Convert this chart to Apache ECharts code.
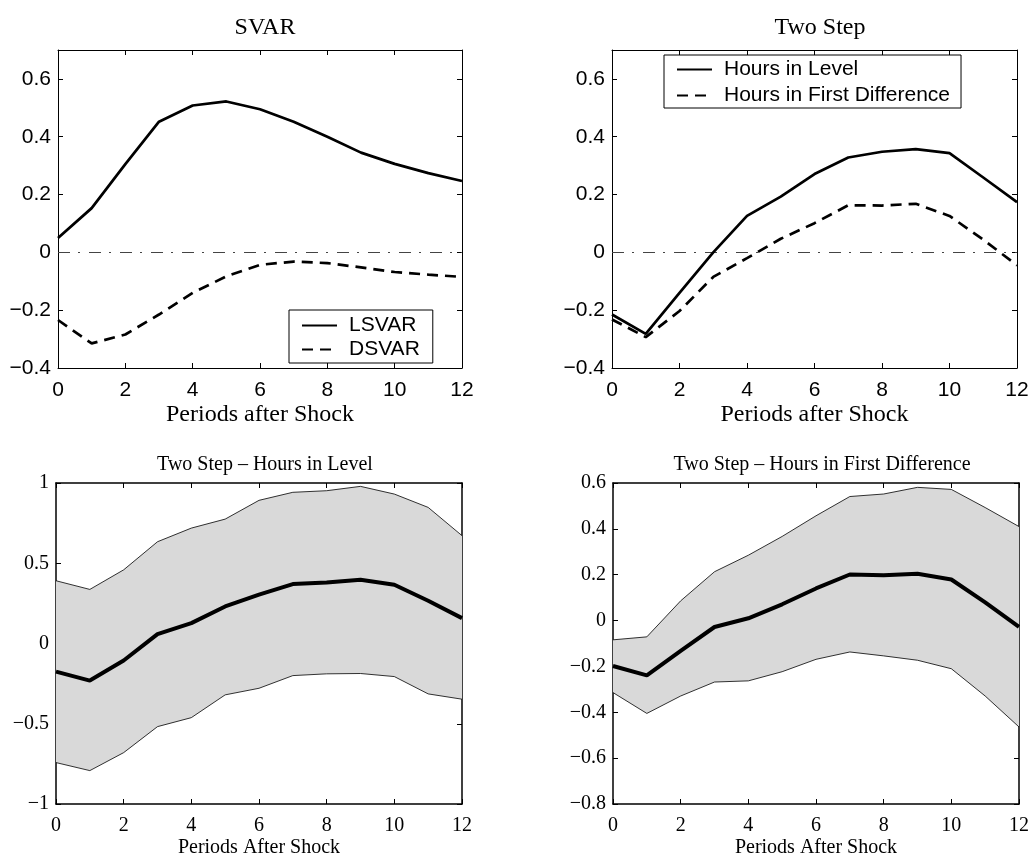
<!DOCTYPE html>
<html>
<head>
<meta charset="utf-8">
<title>Impulse responses of hours</title>
<script src="https://cdn.jsdelivr.net/npm/echarts@6/dist/echarts.min.js"></script>
<style>
  html, body { margin: 0; padding: 0; background: #ffffff; }
  #chart { width: 1032px; height: 857px; }
</style>
</head>
<body>
<div id="chart"></div>
<script>
// Horizon in periods after the shock
const periods = [0, 1, 2, 3, 4, 5, 6, 7, 8, 9, 10, 11, 12];

// SVAR responses
const svarLevel = [0.05, 0.153, 0.305, 0.452, 0.508, 0.522, 0.495, 0.452, 0.40, 0.345, 0.306, 0.274, 0.247];
const svarDiff  = [-0.234, -0.315, -0.284, -0.215, -0.14, -0.083, -0.043, -0.032, -0.037, -0.052, -0.068, -0.077, -0.085];

// Two step responses
const twoStepLevel = [-0.215, -0.282, -0.14, 0.0, 0.126, 0.193, 0.271, 0.328, 0.348, 0.357, 0.343, 0.259, 0.174];
const twoStepDiff  = [-0.232, -0.293, -0.203, -0.085, -0.02, 0.047, 0.101, 0.163, 0.162, 0.168, 0.126, 0.044, -0.045];

// Two step, hours in level: point estimate and band
const levelMid   = [-0.175, -0.231, -0.106, 0.058, 0.127, 0.231, 0.304, 0.37, 0.38, 0.397, 0.366, 0.266, 0.158];
const levelUpper = [0.391, 0.337, 0.459, 0.634, 0.719, 0.775, 0.892, 0.942, 0.952, 0.979, 0.931, 0.848, 0.672];
const levelLower = [-0.742, -0.792, -0.68, -0.518, -0.462, -0.32, -0.279, -0.2, -0.189, -0.187, -0.206, -0.314, -0.347];

// Two step, hours in first difference: point estimate and band
const diffMid   = [-0.198, -0.239, -0.132, -0.028, 0.01, 0.071, 0.14, 0.201, 0.198, 0.204, 0.179, 0.079, -0.028];
const diffUpper = [-0.084, -0.071, 0.086, 0.213, 0.285, 0.367, 0.457, 0.541, 0.552, 0.581, 0.572, 0.493, 0.41];
const diffLower = [-0.314, -0.405, -0.329, -0.268, -0.263, -0.223, -0.169, -0.137, -0.154, -0.173, -0.21, -0.329, -0.464];

// Panel titles and axis names
const panelTitles = ['SVAR', 'Two Step', 'Two Step \u2013 Hours in Level', 'Two Step \u2013 Hours in First Difference'];
const topAxisName = 'Periods after Shock';
const bottomAxisName = 'Periods After Shock';

const SANS = 'Liberation Sans';
const SERIF = 'Liberation Serif';

const pairs = (ys) => periods.map((p, i) => [p, ys[i]]);
const triples = (lo, hi) => periods.map((p, i) => [p, lo[i], hi[i]]);
const fmt = (v) => String(Math.round(v * 100) / 100).replace('-', '\u2212');

const grids = [
  { left: 58,  top: 50,  width: 404, height: 318, outerBoundsMode: 'none' },
  { left: 612, top: 50,  width: 405, height: 318, outerBoundsMode: 'none' },
  { left: 56,  top: 483, width: 406, height: 321, outerBoundsMode: 'none' },
  { left: 613, top: 483, width: 406, height: 321, outerBoundsMode: 'none' }
];

const yRanges = [
  { min: -0.4, max: 0.7, interval: 0.2 },
  { min: -0.4, max: 0.7, interval: 0.2 },
  { min: -1,   max: 1,   interval: 0.5 },
  { min: -0.8, max: 0.6, interval: 0.2 }
];

const xAxes = [];
const yAxes = [];
grids.forEach((g, i) => {
  const top = i < 2;
  const font = top ? SANS : SERIF;
  const fsize = top ? 21 : 20;
  const lw = top ? 1 : 1.5;
  const axisLine = { show: true, onZero: false, lineStyle: { color: '#000', width: lw } };
  const axisTick = { show: true, inside: true, length: 5, lineStyle: { color: '#000', width: 1 } };
  xAxes.push({
    type: 'value', gridIndex: i, position: 'bottom',
    min: 0, max: 12, interval: 2,
    axisLine, axisTick, splitLine: { show: false },
    axisLabel: { color: '#000', fontFamily: font, fontSize: fsize, margin: top ? 12 : 12, formatter: fmt },
    name: top ? topAxisName : bottomAxisName,
    nameLocation: 'middle', nameGap: top ? 35 : 34,
    nameTextStyle: { color: '#000', fontFamily: SERIF, fontSize: top ? 24 : 20 }
  });
  xAxes.push({
    type: 'value', gridIndex: i, position: 'top',
    min: 0, max: 12, interval: 2,
    axisLine, axisTick, splitLine: { show: false }, axisLabel: { show: false }
  });
  const r = yRanges[i];
  yAxes.push({
    type: 'value', gridIndex: i, position: 'left',
    min: r.min, max: r.max, interval: r.interval,
    axisLine, axisTick, splitLine: { show: false },
    axisLabel: { color: '#000', fontFamily: font, fontSize: fsize, margin: 7, formatter: fmt, showMaxLabel: r.max !== 0.7 }
  });
  yAxes.push({
    type: 'value', gridIndex: i, position: 'right',
    min: r.min, max: r.max, interval: r.interval,
    axisLine, axisTick, splitLine: { show: false }, axisLabel: { show: false }
  });
});

const zeroLine = {
  silent: true, symbol: 'none', label: { show: false },
  lineStyle: { color: '#444', width: 1, type: [12, 8, 2, 9] },
  data: [{ yAxis: 0 }]
};

const solid = (name, data, idx, extra) => Object.assign({
  name, type: 'line', data: pairs(data),
  xAxisIndex: idx * 2, yAxisIndex: idx * 2,
  symbol: 'none', z: 5,
  lineStyle: { color: '#000', width: 2.7, type: 'solid' },
  itemStyle: { color: '#000' }
}, extra || {});

const thin = (name, data, idx) => ({
  name, type: 'line', data: pairs(data),
  xAxisIndex: idx * 2, yAxisIndex: idx * 2,
  symbol: 'none', z: 4,
  lineStyle: { color: '#000', width: 0.8 }
});

// Shaded region between the lower and upper bounds, drawn as one polygon
const band = (name, lower, upper, idx) => ({
  name, type: 'custom', data: triples(lower, upper),
  xAxisIndex: idx * 2, yAxisIndex: idx * 2,
  encode: { x: 0, y: [1, 2] }, z: 2, silent: true,
  renderItem: (params, api) => {
    if (params.dataIndex !== 0) return null;
    const top = periods.map((p, i) => api.coord([p, upper[i]]));
    const bottom = periods.map((p, i) => api.coord([p, lower[i]])).reverse();
    return {
      type: 'polygon',
      shape: { points: top.concat(bottom) },
      style: { fill: '#d9d9d9', stroke: null }
    };
  }
});

const dashed = { color: '#000', width: 2.7, type: [11, 7] };

const series = [
  solid('LSVAR', svarLevel, 0, { markLine: zeroLine }),
  solid('DSVAR', svarDiff, 0, { lineStyle: dashed }),
  solid('Hours in Level', twoStepLevel, 1, { markLine: zeroLine }),
  solid('Hours in First Difference', twoStepDiff, 1, { lineStyle: dashed }),
  band('level band', levelLower, levelUpper, 2),
  thin('level upper', levelUpper, 2),
  thin('level lower', levelLower, 2),
  solid('level estimate', levelMid, 2, { lineStyle: { color: '#000', width: 4 } }),
  band('diff band', diffLower, diffUpper, 3),
  thin('diff upper', diffUpper, 3),
  thin('diff lower', diffLower, 3),
  solid('diff estimate', diffMid, 3, { lineStyle: { color: '#000', width: 4 } })
];

const legendBase = {
  orient: 'vertical', selectedMode: false,
  backgroundColor: '#fff', borderColor: '#000', borderWidth: 1, borderRadius: 0,
  itemWidth: 35, itemHeight: 14,
  itemStyle: { opacity: 0 },
  textStyle: { color: '#000', fontFamily: SANS, fontSize: 21, lineHeight: 20, padding: [0, 0, 0, 7] }
};

const option = {
  backgroundColor: '#ffffff',
  animation: false,
  title: [
    { text: panelTitles[0], left: 260, top: 11, textAlign: 'center',
      textStyle: { fontFamily: SERIF, fontSize: 24, fontWeight: 'normal', color: '#000' } },
    { text: panelTitles[1], left: 815, top: 11, textAlign: 'center',
      textStyle: { fontFamily: SERIF, fontSize: 24, fontWeight: 'normal', color: '#000' } },
    { text: panelTitles[2], left: 260, top: 450, textAlign: 'center',
      textStyle: { fontFamily: SERIF, fontSize: 20, fontWeight: 'normal', color: '#000' } },
    { text: panelTitles[3], left: 817, top: 450, textAlign: 'center',
      textStyle: { fontFamily: SERIF, fontSize: 20, fontWeight: 'normal', color: '#000' } }
  ],
  legend: [
    Object.assign({}, legendBase, {
      data: ['LSVAR', 'DSVAR'], left: 289, top: 310,
      itemGap: 3, padding: [5, 13, 3, 12]
    }),
    Object.assign({}, legendBase, {
      data: ['Hours in Level', 'Hours in First Difference'], left: 664, top: 55,
      itemGap: 5, padding: [4, 11, 2, 12]
    })
  ],
  grid: grids,
  xAxis: xAxes,
  yAxis: yAxes,
  series
};

const chart = echarts.init(document.getElementById('chart'), null, { renderer: 'canvas' });
chart.setOption(option);
</script>
</body>
</html>
